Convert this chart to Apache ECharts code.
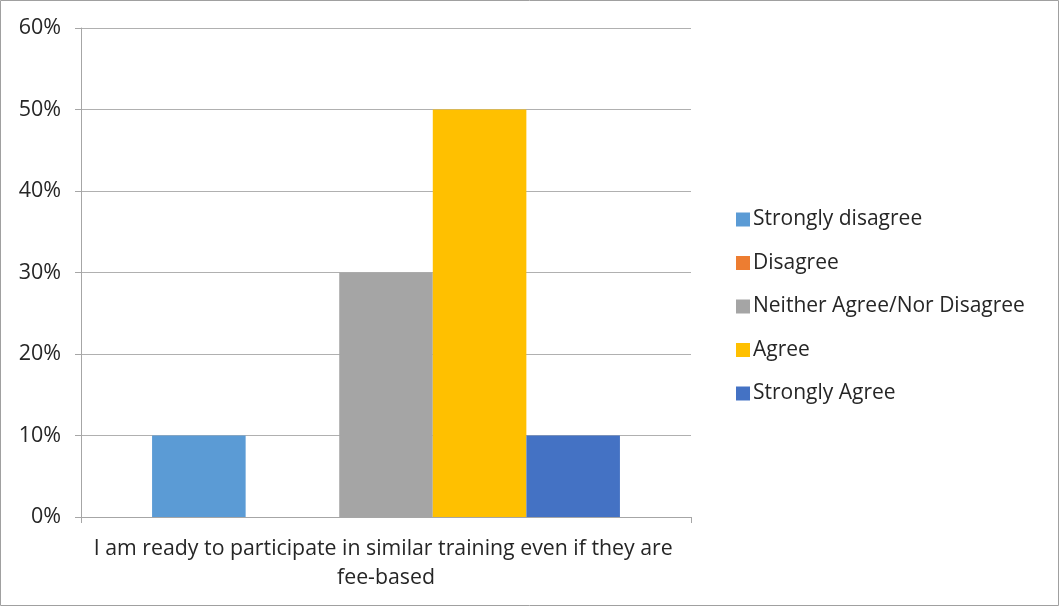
<!DOCTYPE html>
<html><head><meta charset="utf-8">
<script src="https://cdn.jsdelivr.net/npm/echarts@6/dist/echarts.min.js"></script>
<style>html,body{margin:0;padding:0;background:#fff}#c{width:1060px;height:607px}</style>
</head><body><div id="c"></div>
<script>
const categories = ['I am ready to participate in similar training even if they are fee-based'];
const seriesNames = ['Strongly disagree','Disagree','Neither Agree/Nor Disagree','Agree','Strongly Agree'];
const seriesValues = [[10],[0],[30],[50],[10]];
const colors = ['#5B9BD5','#ED7D31','#A5A5A5','#FFC000','#4472C4'];
const yTicks = [0,10,20,30,40,50,60];

const chart = echarts.init(document.getElementById('c'));
const font = 'Open Sans';
chart.setOption({
  animation:false,
  color: colors,
  graphic:[{type:'rect',shape:{x:0.5,y:0.5,width:1058,height:605},style:{fill:'none',stroke:'#a0a0a0',lineWidth:1},silent:true}],
  grid:{left:81,right:369,top:28,bottom:90,containLabel:false},
  legend:{orient:'vertical',left:731,top:204,itemWidth:14,itemHeight:14,itemGap:22.5,
    icon:'rect',textStyle:{fontFamily:font,fontSize:21,color:'#262626',padding:[0,0,0,-2]},
    data:seriesNames},
  xAxis:{type:'category',data:categories,
    axisLine:{lineStyle:{color:'#a6a6a6'}},
    axisTick:{show:true,length:6,lineStyle:{color:'#a6a6a6'}},
    axisLabel:{fontFamily:font,fontSize:21.3,color:'#262626',width:610,overflow:'break',lineHeight:29,margin:17}},
  yAxis:{type:'value',min:0,max:60,interval:10,
    axisLine:{show:true,lineStyle:{color:'#a6a6a6'}},
    axisTick:{show:true,length:6,lineStyle:{color:'#a6a6a6'}},
    splitLine:{lineStyle:{color:'#b0b0b0'}},
    axisLabel:{fontFamily:font,fontSize:21.5,color:'#262626',margin:20,
      formatter:v=>yTicks.includes(v)?v+'%':''}},
  series: seriesNames.map((n,i)=>({name:n,type:'bar',data:seriesValues[i],barGap:'0%',barCategoryGap:'23.3%'}))
});
</script></body></html>
